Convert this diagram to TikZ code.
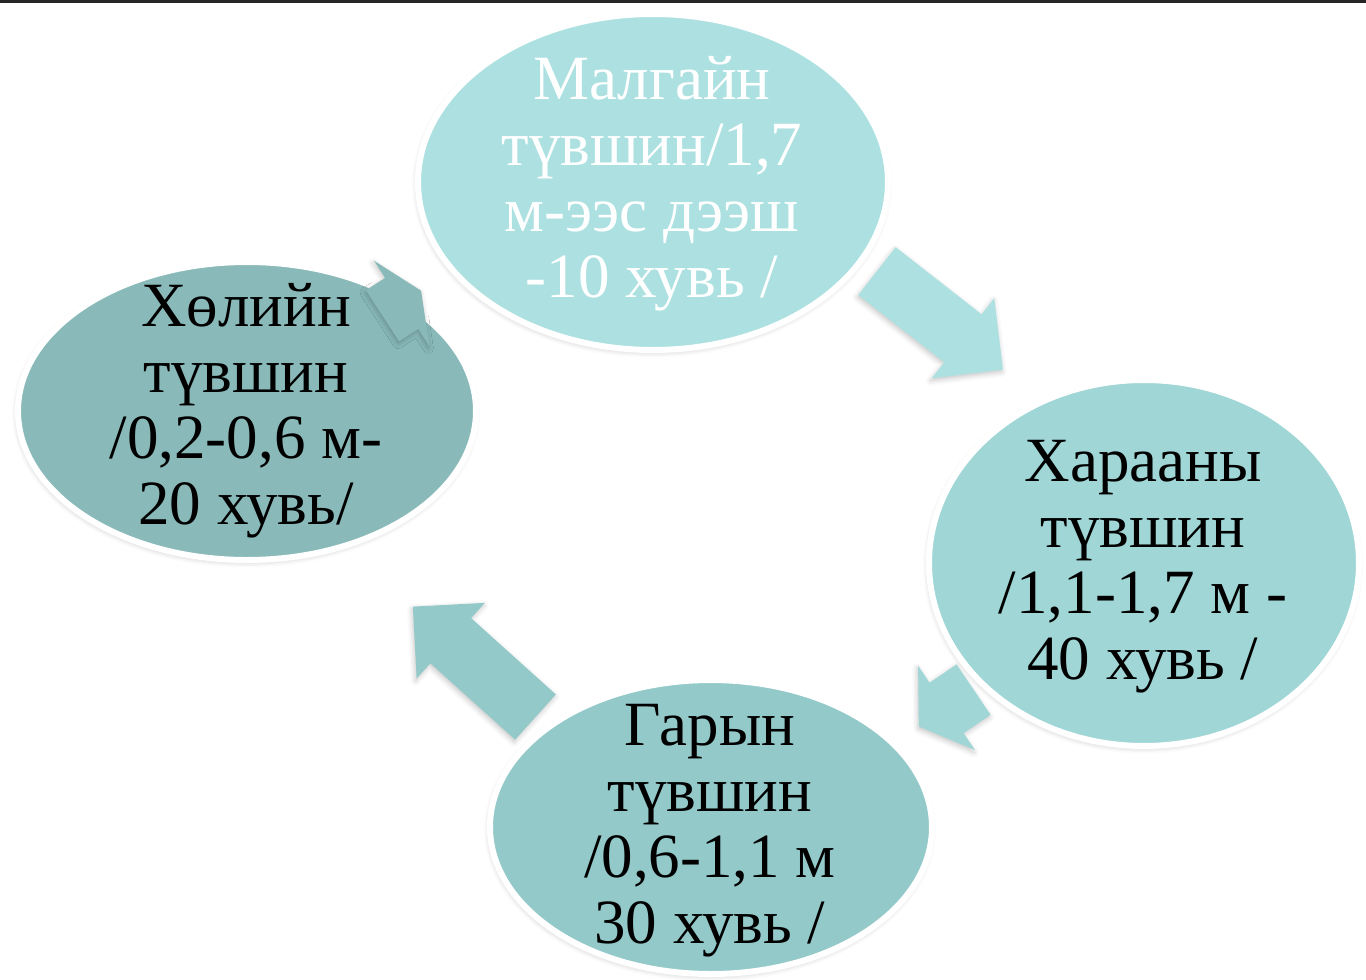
\documentclass[tikz,border=0pt]{standalone}
\usepackage{fontspec}
\setmainfont{Liberation Serif}
\usetikzlibrary{shapes.geometric,shapes.arrows,shadows.blur}
\definecolor{colA}{RGB}{173,225,225}
\definecolor{colB}{RGB}{160,214,214}
\definecolor{colC}{RGB}{147,201,201}
\definecolor{colD}{RGB}{137,185,185}
\tikzstyle{soft}=[blur shadow={shadow xshift=-0.5pt, shadow yshift=-1.2pt, shadow opacity=22, shadow blur radius=2.5pt}]
\tikzstyle{zone}=[ellipse, draw=white, line width=3pt, inner sep=0pt, soft]
\tikzstyle{zonetext}=[align=center, inner sep=0pt, font=\fontsize{31.5}{33}\selectfont]
\tikzstyle{flow}=[single arrow, draw=none, inner xsep=0pt, inner ysep=15pt, single arrow head extend=10.25pt, soft]

\begin{document}
\begin{tikzpicture}[x=0.5pt, y=-0.5pt]
			\useasboundingbox (0,0) rectangle (1366,980);
			\fill[black!85] (0,0) rectangle (1366,3);
			\node[zone, fill=colA, minimum width=235pt, minimum height=168pt] (malgai) at (653,182) {};
			\node[zone, fill=colB, minimum width=215pt, minimum height=183pt] (haraa) at (1144,563) {};
			\node[zone, fill=colC, minimum width=221pt, minimum height=147pt] (gar) at (711,827) {};
			\node[zone, fill=colD, minimum width=229pt, minimum height=149pt] (hol) at (247,411) {};
			\node[zonetext, text=white] (malgaiT) at (652,184) {Малгайн\\түвшин/1,7\\м-ээс дээш\\-10 хувь /};
			\node[zonetext] (haraaT) at (1143,567) {Харааны\\түвшин\\/1,1-1,7 м -\\40 хувь /};
			\node[zonetext] (garT) at (710,831) {Гарын\\түвшин\\/0,6-1,1 м\\30 хувь /};
			\node[zonetext] (holT) at (246,411) {Хөлийн\\түвшин\\/0,2-0,6 м-\\20 хувь/};
			\node[flow, fill=colA, minimum height=80pt, rotate=-38] (malgaiHaraa) at (928,311) {};
			\node[flow, fill=colB, minimum height=33pt, single arrow tip angle=113.5, rotate=-146] (haraaGar) at (954.5,702.5) {};
			\node[flow, fill=colC, minimum height=82.5pt, rotate=138] (garHol) at (485.5,672) {};
			\node[flow, fill=colD, minimum height=23pt, single arrow tip angle=131, rotate=33] (holMalgai) at (396,307) {};
		\end{tikzpicture}
\end{document}
